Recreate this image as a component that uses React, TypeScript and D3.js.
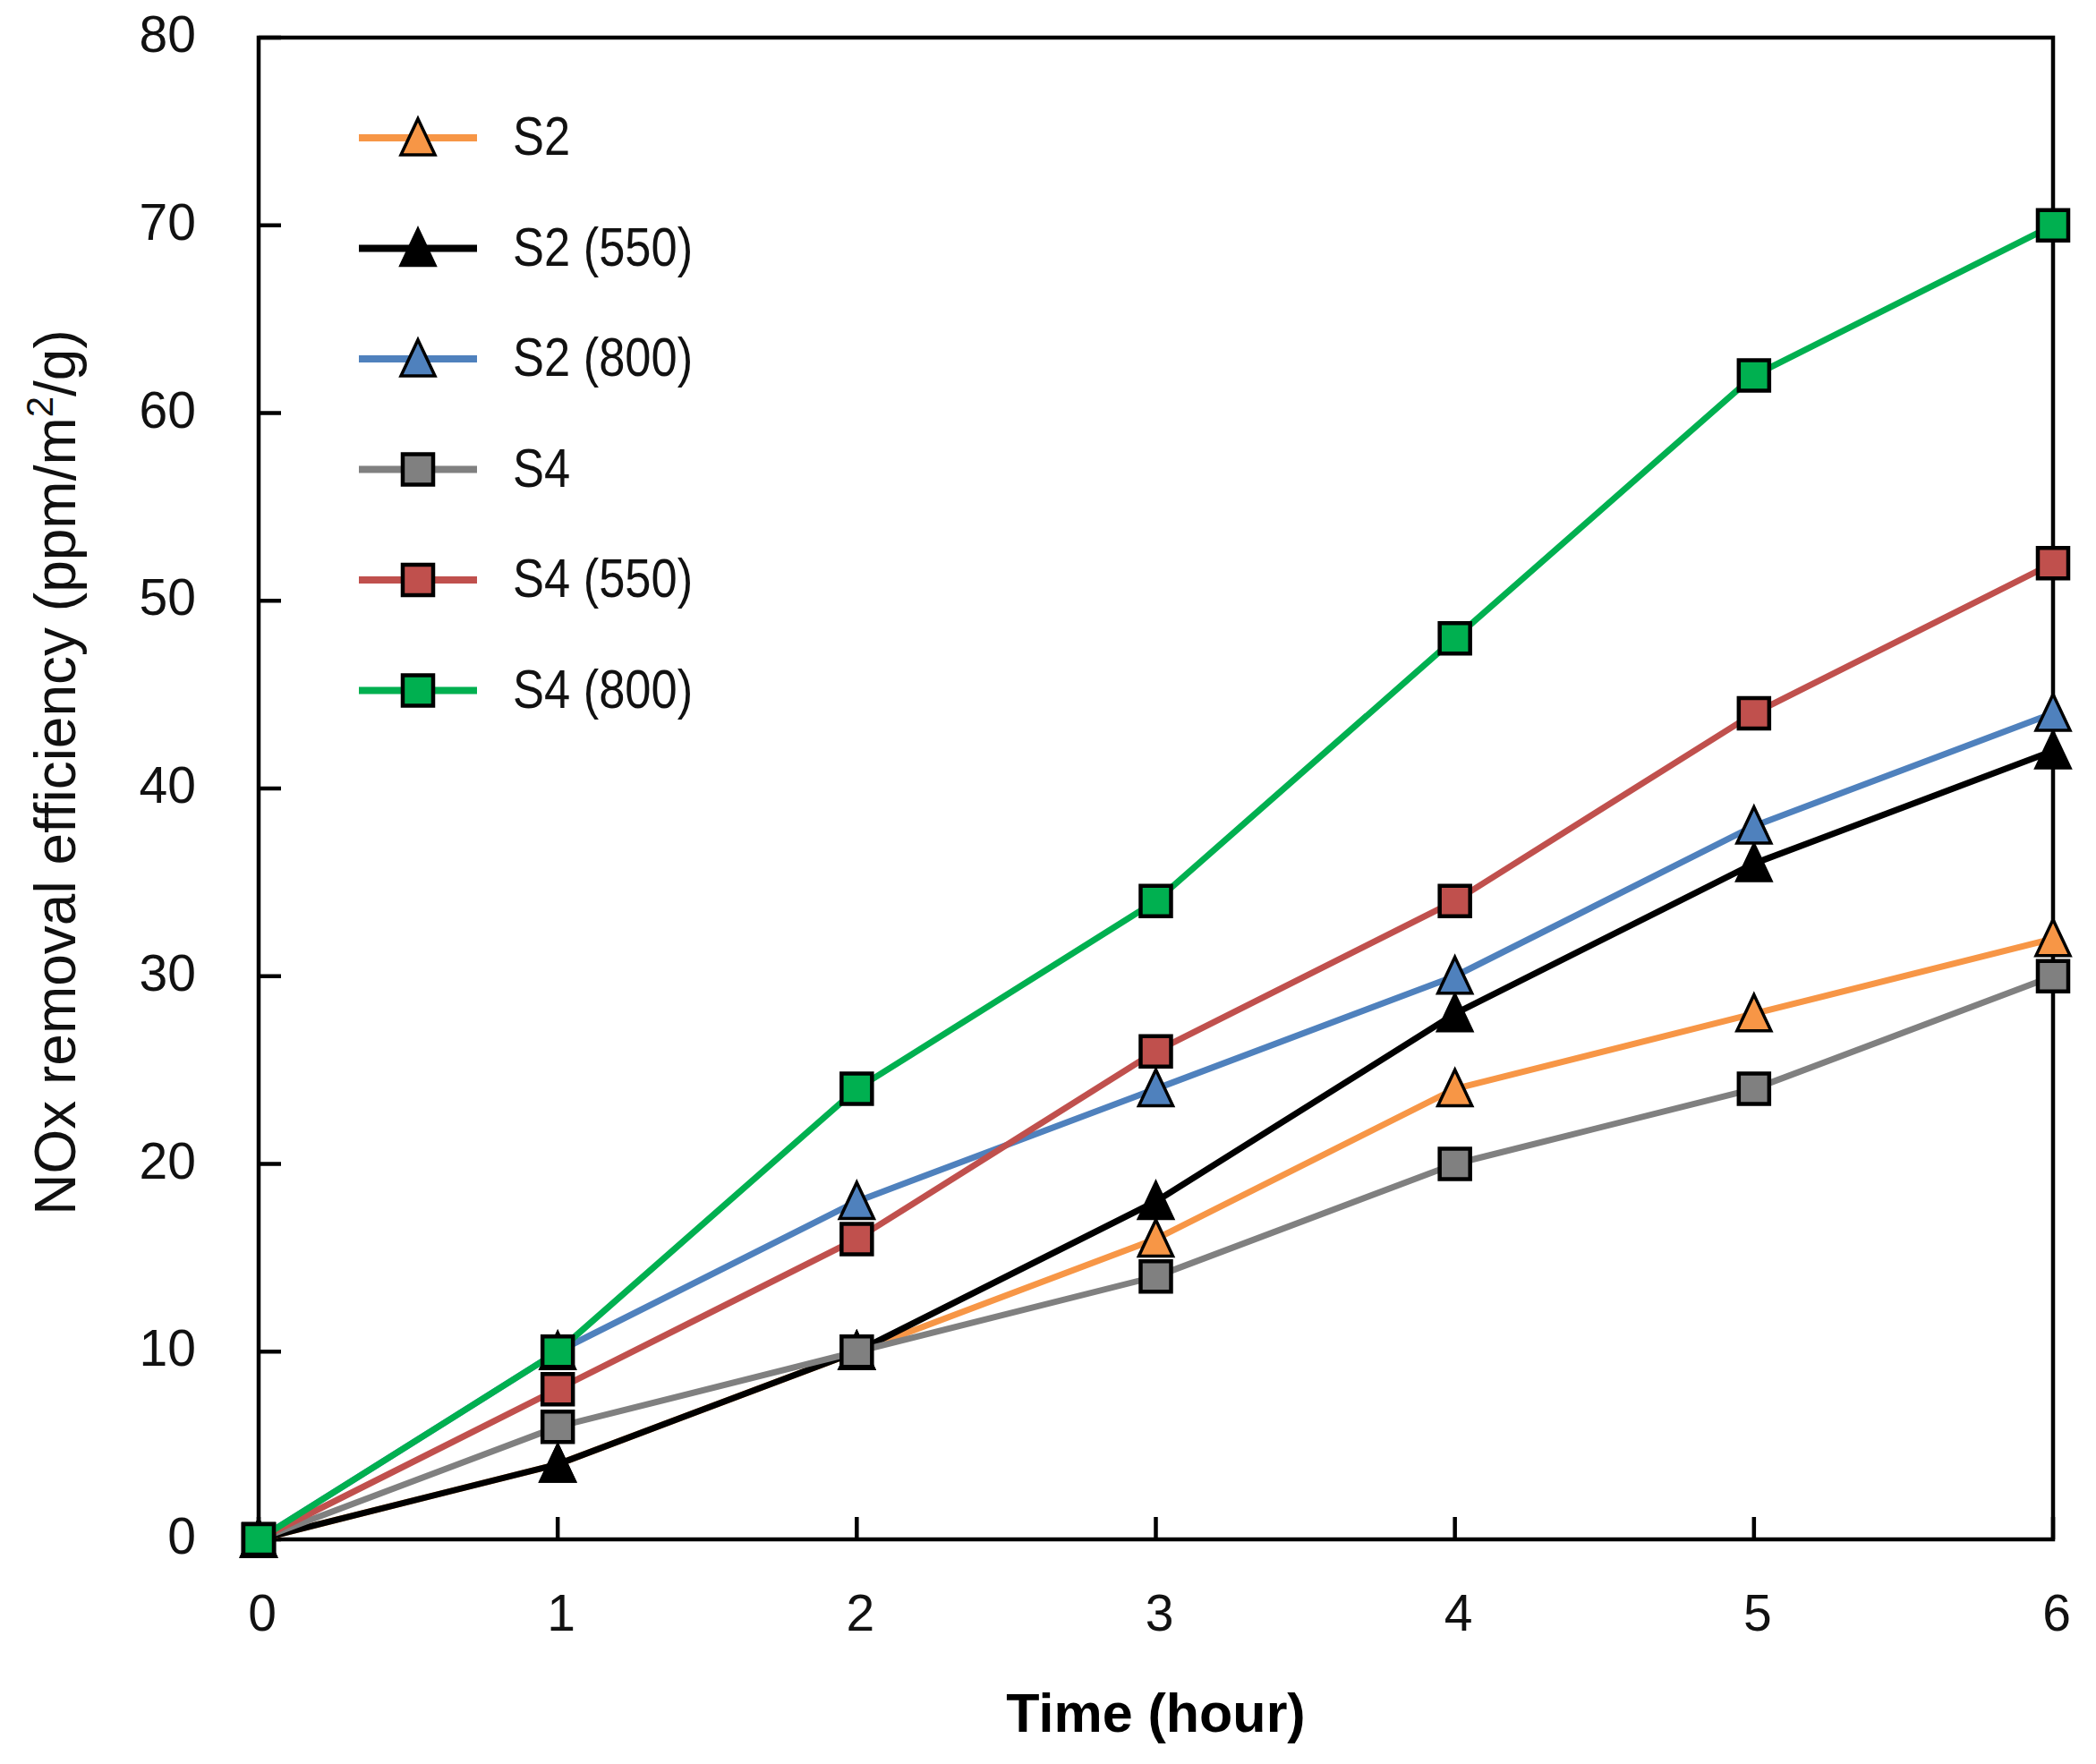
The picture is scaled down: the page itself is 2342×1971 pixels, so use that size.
import React from "react";
import * as d3 from "d3";

// time (hour)
const hours = [0, 1, 2, 3, 4, 5, 6];

// NOx removal efficiency values
const s2 = [0, 4, 10, 16, 24, 28, 32];
const s2_550 = [0, 4, 10, 18, 28, 36, 42];
const s2_800 = [0, 10, 18, 24, 30, 38, 44];
const s4 = [0, 6, 10, 14, 20, 24, 30];
const s4_550 = [0, 8, 16, 26, 34, 44, 52];
const s4_800 = [0, 10, 24, 34, 48, 62, 70];

const seriesNames = ["S2", "S2 (550)", "S2 (800)", "S4", "S4 (550)", "S4 (800)"];
const seriesValues = [s2, s2_550, s2_800, s4, s4_550, s4_800];
const seriesColors = ["#F79646", "#000000", "#4F81BD", "#808080", "#C0504D", "#00B050"];
const seriesShapes = ["triangle", "triangle", "triangle", "square", "square", "square"];

const yTicks = [0, 10, 20, 30, 40, 50, 60, 70, 80];

const W = 2342;
const H = 1971;
const margin = { top: 42, right: 48, bottom: 251, left: 289 };
const FONT = "Arial, 'Liberation Sans', sans-serif";

// taller-than-equilateral triangle like the Excel marker
const triangleType = {
  draw(ctx, size) {
    const w = Math.sqrt(size);
    ctx.moveTo(0, -w * 0.56);
    ctx.lineTo(w / 2, w * 0.5);
    ctx.lineTo(-w / 2, w * 0.5);
    ctx.closePath();
  },
};
const squareType = {
  draw(ctx, size) {
    const s = Math.sqrt(size);
    ctx.rect(-s / 2, -s / 2, s, s);
  },
};

const markerPath = (shape) =>
  shape === "triangle"
    ? d3.symbol(triangleType, 38 * 38)()
    : d3.symbol(squareType, 34 * 34)();

export default function App() {
  const x = d3
    .scaleLinear()
    .domain([0, 6])
    .range([margin.left, W - margin.right]);
  const y = d3
    .scaleLinear()
    .domain([0, 80])
    .range([H - margin.bottom, margin.top]);

  const line = d3
    .line()
    .x((d) => x(d[0]))
    .y((d) => y(d[1]));

  const x0 = x(0);
  const x1 = x(6);
  const yb = y(0);
  const yt = y(80);
  const legendX = 401;
  const legendY = 154;
  const legendStep = 123.5;

  return (
    <svg
      width={W}
      height={H}
      style={{ position: "absolute", left: 0, top: 0, background: "#fff" }}
      fontFamily={FONT}
    >
      <rect x={0} y={0} width={W} height={H} fill="#fff" />

      {/* plot frame */}
      <rect
        x={x0}
        y={yt}
        width={x1 - x0}
        height={yb - yt}
        fill="none"
        stroke="#000"
        strokeWidth={4.5}
      />

      {/* y ticks (inward) and labels */}
      {yTicks.map((t) => (
        <g key={"y" + t}>
          <line x1={x0} x2={x0 + 25} y1={y(t)} y2={y(t)} stroke="#000" strokeWidth={4.5} />
          <text x={219} y={y(t) + 16} textAnchor="end" fontSize={57} fill="#111">
            {t}
          </text>
        </g>
      ))}

      {/* x ticks (inward) and labels */}
      {hours.map((t) => (
        <g key={"x" + t}>
          <line x1={x(t)} x2={x(t)} y1={yb} y2={yb - 25} stroke="#000" strokeWidth={4.5} />
          <text x={x(t) + 4} y={1822} textAnchor="middle" fontSize={57} fill="#111">
            {t}
          </text>
        </g>
      ))}

      {/* axis titles */}
      <text
        x={x((0 + 6) / 2)}
        y={1935}
        textAnchor="middle"
        fontSize={61}
        fontWeight="bold"
        fill="#000"
      >
        Time (hour)
      </text>
      <text
        transform={`translate(84, ${(yb + yt) / 2 - 18}) rotate(-90)`}
        textAnchor="middle"
        fontSize={64}
        fill="#111"
      >
        NOx removal efficiency (ppm/m
        <tspan fontSize={42} dy={-25}>
          2
        </tspan>
        <tspan dy={25}>/g)</tspan>
      </text>

      {/* series */}
      {seriesValues.map((vals, i) => {
        const pts = hours.map((h, j) => [h, vals[j]]);
        return (
          <g key={seriesNames[i]}>
            <path
              d={line(pts)}
              fill="none"
              stroke={seriesColors[i]}
              strokeWidth={7}
              strokeLinejoin="round"
            />
            {pts.map((p, j) => (
              <path
                key={j}
                d={markerPath(seriesShapes[i])}
                transform={`translate(${x(p[0])},${y(p[1])})`}
                fill={seriesColors[i]}
                stroke="#000"
                strokeWidth={seriesShapes[i] === "square" ? 4.5 : 3.5}
                strokeLinejoin="miter"
              />
            ))}
          </g>
        );
      })}

      {/* legend */}
      {seriesNames.map((name, i) => {
        const ly = legendY + i * legendStep;
        return (
          <g key={"lg" + name}>
            <line
              x1={legendX}
              x2={legendX + 132}
              y1={ly}
              y2={ly}
              stroke={seriesColors[i]}
              strokeWidth={8}
            />
            <path
              d={markerPath(seriesShapes[i])}
              transform={`translate(${legendX + 66},${ly})`}
              fill={seriesColors[i]}
              stroke="#000"
              strokeWidth={seriesShapes[i] === "square" ? 4.5 : 3.5}
            />
            <text
              transform={`translate(573, ${ly + 19}) scale(0.86, 1)`}
              fontSize={61}
              fill="#111"
            >
              {name}
            </text>
          </g>
        );
      })}
    </svg>
  );
}
